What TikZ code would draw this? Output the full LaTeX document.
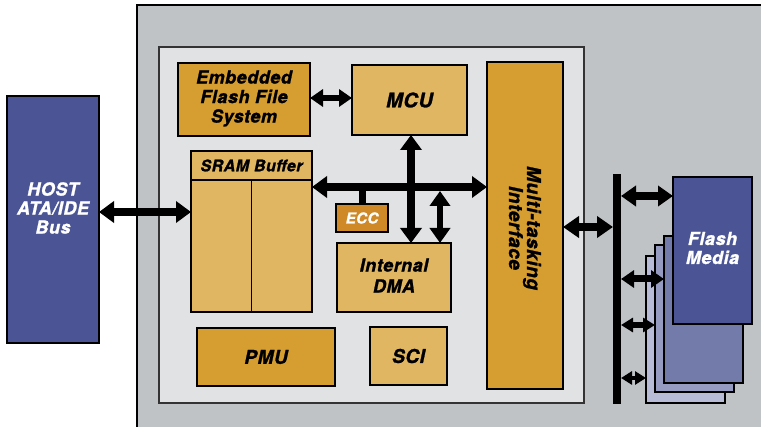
\documentclass[tikz,border=0pt]{standalone}
\usepackage{fontspec}
\newfontfamily\lblfont[LetterSpace=3, BoldItalicFeatures={FakeBold=1.2}]{TeX Gyre Heros}
\usetikzlibrary{arrows.meta}
\definecolor{outergray}{HTML}{C0C3C6}
\definecolor{innergray}{HTML}{E1E2E4}
\definecolor{darkor}{HTML}{D69D30}
\definecolor{lightor}{HTML}{E0B663}
\definecolor{eccor}{HTML}{CF8A27}
\definecolor{navy}{HTML}{4B5595}
\definecolor{cardb}{HTML}{737BAA}
\definecolor{cardc}{HTML}{969BC2}
\definecolor{cardd}{HTML}{B9BCD6}
\tikzset{
  box/.style={draw=black, line width=1.2pt, inner sep=0pt, outer sep=0pt},
  lbl/.style={font=\lblfont\bfseries\itshape\fontsize{18}{19.5}\selectfont, align=center, inner sep=0pt},
  dar/.style args={#1/#2/#3}{line width=#1, arrows={Triangle[length=#2,width=#3]-Triangle[length=#2,width=#3]}},
}
\begin{document}
\begin{tikzpicture}[x=1pt,y=-1pt]
\useasboundingbox (0,0) rectangle (761,427);
\fill[white] (0,0) rectangle (761,427);
% outer gray panel
\fill[outergray] (137,5) rectangle (775,440);
\draw[line width=1.5pt] (137,440) -- (137,5) -- (775,5);
% inner light panel
\draw[fill=innergray, draw=black!80, line width=1.5pt] (159,47) rectangle (584,403);

% host
\node[box, line width=2pt, fill=navy, minimum width=92, minimum height=247] (host) at (53,219.5) {};
\node[lbl, text=white, font=\lblfont\bfseries\itshape\fontsize{18}{19}\selectfont] (hosttxt) at (53,208) {HOST\\ATA/IDE\\Bus};

% blocks
\node[box, fill=darkor, minimum width=132, minimum height=73] (effs) at (244,99.5) {};
\node[lbl] (effstxt) at (244,98.5) {Embedded\\Flash File\\System};
\node[box, fill=lightor, minimum width=115, minimum height=70] (mcu) at (409.5,100)
  {\lblfont\bfseries\itshape\fontsize{20}{22}\selectfont MCU};
\node[box, fill=lightor, minimum width=121, minimum height=161] (sram) at (251.5,231.5) {};
\draw[line width=1.2pt] ([yshift=-29pt]sram.north west) -- ([yshift=-29pt]sram.north east);
\draw[line width=1.2pt] ([yshift=-29pt]sram.north) -- (sram.south);
\node[lbl, font=\lblfont\bfseries\itshape\fontsize{16}{18}\selectfont] (sramtxt) at ([yshift=-14.5pt]sram.north) {SRAM Buffer};
\node[box, fill=eccor, minimum width=52, minimum height=28, text=white,
  font=\lblfont\bfseries\itshape\fontsize{15}{17}\selectfont] (ecc) at (362,218) {ECC};
\node[box, fill=lightor, minimum width=114, minimum height=69] (dma) at (394,277.5) {};
\node[lbl, font=\lblfont\bfseries\itshape\fontsize{18}{21}\selectfont] (dmatxt) at (394,275.5) {Internal\\DMA};
\node[box, fill=darkor, minimum width=76, minimum height=327] (mti) at (525,225.5) {};
\node[lbl, rotate=-90, font=\lblfont\bfseries\itshape\fontsize{19}{18}\selectfont] (mtitxt) at (525,228) {Multi-tasking\\Interface};
\node[box, fill=darkor, minimum width=138, minimum height=58,
  font=\lblfont\bfseries\itshape\fontsize{19}{21}\selectfont] (pmu) at (266,357) {PMU};
\node[box, fill=lightor, minimum width=77, minimum height=58,
  font=\lblfont\bfseries\itshape\fontsize{19}{21}\selectfont] (sci) at (408.5,356) {SCI};

% vertical flash bus
\node[fill=black, inner sep=0pt, outer sep=0pt, minimum width=8, minimum height=230] (vbus) at (617,289) {};

% flash cards
\node[box, fill=cardd, minimum width=79, minimum height=147] (card4) at (685.5,329.5) {};
\node[box, fill=cardc, minimum width=79, minimum height=147] (card3) at (694.5,318.5) {};
\node[box, fill=cardb, minimum width=79, minimum height=147] (card2) at (703.5,309.5) {};
\node[box, fill=navy, minimum width=79, minimum height=147, text=white] (card1) at (712.5,250.5)
  {\lblfont\bfseries\itshape\fontsize{18}{20}\selectfont\begin{tabular}{@{}c@{}}Flash\\[-1pt]Media\end{tabular}};

% helper coordinates
\coordinate (busy) at (0,187);
\coordinate (vx) at (411,0);
\coordinate (dmatap) at (440,191);

% connectors
\draw[dar=8pt/15pt/21pt] ([yshift=7.5pt]host.east) -- ([yshift=7.5pt]host.east -| sram.west);
\draw[dar=6pt/13pt/17pt] ([yshift=1.5pt]effs.east) -- ([yshift=1.5pt]effs.east -| mcu.west);
\draw[line width=7pt] (ecc.north |- busy) -- (ecc.north);
\draw[dar=8pt/15pt/21pt] (sram.east |- busy) -- (mti.west |- busy);
\draw[dar=7.5pt/15pt/21pt] (vx |- mcu.south) -- (vx |- dma.north);
\draw[dar=6.5pt/15pt/20pt] (dmatap) -- (dmatap |- dma.north);
\draw[dar=8pt/16pt/21pt] ([yshift=-1.5pt]mti.east) -- ([yshift=-1.5pt]mti.east -| vbus.west);
\draw[dar=8pt/15pt/20pt] ([yshift=54.5pt]card1.west -| vbus.east) -- ([yshift=54.5pt]card1.west);
\draw[dar=7pt/13pt/17pt] ([yshift=30.5pt]card2.west -| vbus.east) -- ([yshift=30.5pt]card2.west);
\draw[dar=5.5pt/12pt/14pt] ([yshift=-6.5pt]card3.west -| vbus.east) -- ([yshift=-6.5pt]card3.west);
\draw[dar=4.5pt/11pt/13pt] ([yshift=-48.5pt]card4.west -| vbus.east) -- ([yshift=-48.5pt]card4.west);
\end{tikzpicture}
\end{document}
